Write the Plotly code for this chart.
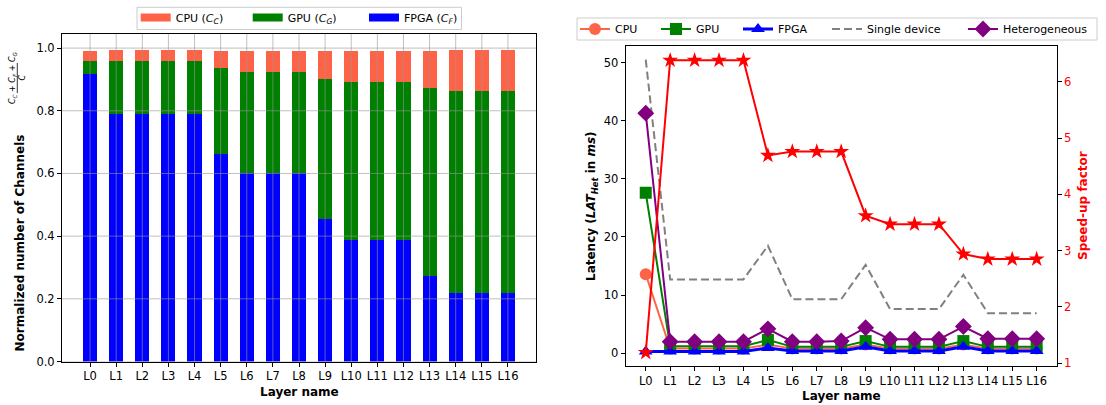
import plotly.graph_objects as go

# ---- data ---------------------------------------------------------------
layers = ["L0", "L1", "L2", "L3", "L4", "L5", "L6", "L7", "L8",
          "L9", "L10", "L11", "L12", "L13", "L14", "L15", "L16"]

# normalized channel split per layer (stacked: FPGA, GPU, CPU)
fpga_share = [0.918, 0.790, 0.790, 0.790, 0.790, 0.663, 0.600, 0.600, 0.600,
              0.454, 0.387, 0.387, 0.387, 0.272, 0.217, 0.217, 0.217]
gpu_share = [0.040, 0.168, 0.168, 0.168, 0.168, 0.274, 0.323, 0.323, 0.323,
             0.447, 0.504, 0.504, 0.504, 0.600, 0.645, 0.645, 0.645]
cpu_share = [0.032, 0.035, 0.035, 0.035, 0.035, 0.054, 0.067, 0.067, 0.067,
             0.089, 0.099, 0.099, 0.099, 0.118, 0.131, 0.131, 0.131]

# latency in ms
lat_cpu = [13.6, 0.8, 0.8, 0.8, 0.8, 1.5, 0.8, 0.8, 0.8,
           1.5, 0.8, 0.8, 0.8, 1.5, 0.8, 0.8, 0.8]
lat_gpu = [27.6, 1.2, 1.2, 1.2, 1.2, 2.3, 1.1, 1.1, 1.1,
           2.1, 1.1, 1.1, 1.1, 2.1, 1.1, 1.1, 1.1]
lat_fpga = [0.3, 0.3, 0.3, 0.3, 0.3, 0.9, 0.4, 0.4, 0.4,
            1.1, 0.4, 0.4, 0.4, 1.1, 0.4, 0.4, 0.4]
lat_single = [50.5, 12.7, 12.7, 12.7, 12.7, 18.5, 9.3, 9.3, 9.3,
              15.2, 7.6, 7.6, 7.6, 13.5, 6.9, 6.9, 6.9]
lat_het = [41.3, 2.0, 2.0, 2.0, 2.0, 4.2, 2.0, 2.0, 2.1,
           4.4, 2.4, 2.4, 2.4, 4.6, 2.5, 2.5, 2.5]
speedup = [1.19, 6.38, 6.38, 6.38, 6.38, 4.69, 4.76, 4.76, 4.76,
           3.62, 3.47, 3.47, 3.47, 2.94, 2.85, 2.85, 2.85]

share_ticks = [0.0, 0.2, 0.4, 0.6, 0.8, 1.0]
lat_ticks = [0, 10, 20, 30, 40, 50]
speed_ticks = [1, 2, 3, 4, 5, 6]

# ---- layout helpers -------------------------------------------------------
W, H = 1106, 405
FONT = "DejaVu Sans"


def px(x):
    return x / W


def py(y):
    return 1 - y / H


idx = list(range(len(layers)))
C_CPU, C_GPU, C_FPGA = "#FF6347", "#008000", "#0000FF"

fig = go.Figure()

# ---- left: stacked channel split -----------------------------------------
bar_series = [("FPGA (<i>C<sub>F</sub></i>)", fpga_share, C_FPGA, "legend8", 364),
              ("GPU (<i>C<sub>G</sub></i>)", gpu_share, C_GPU, "legend7", 247.7),
              ("CPU (<i>C<sub>C</sub></i>)", cpu_share, C_CPU, "legend", 135.7)]
for name, vals, col, _, _ in bar_series:
    fig.add_trace(go.Bar(x=idx, y=vals, name=name, marker_color=col,
                         marker_line_width=0, width=0.54,
                         xaxis="x", yaxis="y", showlegend=False))
# wide colour patches for the legend entries
for name, _, col, leg, _ in bar_series:
    fig.add_trace(go.Scatter(x=[None], y=[None], name=name, mode="lines",
                             line=dict(color=col, width=8),
                             xaxis="x", yaxis="y", legend=leg))

# ---- right: latency and speed-up ----------------------------------------
line_w = 2
fig.add_trace(go.Scatter(x=idx, y=lat_cpu, name="CPU", mode="lines+markers",
                         line=dict(color=C_CPU, width=line_w),
                         marker=dict(symbol="circle", size=12, color=C_CPU),
                         xaxis="x2", yaxis="y2", legend="legend2"))
fig.add_trace(go.Scatter(x=idx, y=lat_gpu, name="GPU", mode="lines+markers",
                         line=dict(color=C_GPU, width=line_w),
                         marker=dict(symbol="square", size=12, color=C_GPU),
                         xaxis="x2", yaxis="y2", legend="legend3"))
fig.add_trace(go.Scatter(x=idx, y=lat_fpga, name="FPGA", mode="lines+markers",
                         line=dict(color=C_FPGA, width=3),
                         marker=dict(symbol="triangle-up", size=12, color=C_FPGA),
                         xaxis="x2", yaxis="y2", legend="legend4"))
fig.add_trace(go.Scatter(x=idx, y=lat_single, name="Single device", mode="lines",
                         line=dict(color="#808080", width=line_w, dash="8px,4px"),
                         xaxis="x2", yaxis="y2", legend="legend5"))
fig.add_trace(go.Scatter(x=idx, y=lat_het, name="Heterogeneous", mode="lines+markers",
                         line=dict(color="#800080", width=line_w),
                         marker=dict(symbol="diamond", size=13, color="#800080"),
                         xaxis="x2", yaxis="y2", legend="legend6"))
fig.add_trace(go.Scatter(x=idx, y=speedup, name="Speed-up", mode="lines+markers",
                         line=dict(color="#FF0000", width=line_w),
                         marker=dict(symbol="star", size=12, color="#FF0000"),
                         xaxis="x2", yaxis="y3", showlegend=False))

# ---- grid drawn over the bars -------------------------------------------
grid_col = "rgba(150,150,150,0.6)"
shapes = []
for i in idx:
    shapes.append(dict(type="line", xref="x", yref="y domain", x0=i, x1=i,
                       y0=0, y1=1, line=dict(color=grid_col, width=1), layer="above"))
for t in share_ticks:
    shapes.append(dict(type="line", xref="x domain", yref="y", x0=0, x1=1,
                       y0=t, y1=t, line=dict(color=grid_col, width=1), layer="above"))
# fraction bar of the left y label
shapes.append(dict(type="line", xref="paper", yref="paper",
                   x0=px(17.3), x1=px(17.3), y0=py(63), y1=py(93),
                   line=dict(color="black", width=0.8)))
# legend frames
shapes.append(dict(type="rect", xref="paper", yref="paper",
                   x0=px(137), x1=px(461.5), y0=py(7.3), y1=py(29.5),
                   line=dict(color="#cccccc", width=1), fillcolor="white", layer="below"))
shapes.append(dict(type="rect", xref="paper", yref="paper",
                   x0=px(577), x1=px(1097), y0=py(18), y1=py(40),
                   line=dict(color="#cccccc", width=1), fillcolor="white", layer="below"))

axis_common = dict(showline=True, linecolor="black", linewidth=1, mirror=True,
                   ticks="outside", ticklen=4, tickcolor="black",
                   showgrid=False, zeroline=False, automargin=False,
                   tickfont=dict(family=FONT, size=11.5, color="black"))

ann_font = dict(family=FONT, size=12, color="black")
annotations = [
    dict(text="<b>Layer name</b>", x=px(299), y=py(392), xref="paper", yref="paper",
         showarrow=False, font=ann_font, xanchor="center", yanchor="middle"),
    dict(text="<b>Layer name</b>", x=px(841), y=py(396), xref="paper", yref="paper",
         showarrow=False, font=ann_font, xanchor="center", yanchor="middle"),
    dict(text="<b>Normalized number of Channels</b>", x=px(19.5), y=py(243),
         xref="paper", yref="paper", showarrow=False, font=ann_font, textangle=-90,
         xanchor="center", yanchor="middle"),
    dict(text="<i>C<sub>C</sub></i> + <i>C<sub>F</sub></i> + <i>C<sub>G</sub></i>",
         x=px(13), y=py(78), xref="paper", yref="paper", showarrow=False,
         font=dict(family=FONT, size=8, color="black"), textangle=-90,
         xanchor="center", yanchor="middle"),
    dict(text="<i>C</i>", x=px(21.5), y=py(78), xref="paper", yref="paper",
         showarrow=False, font=dict(family=FONT, size=8, color="black"),
         textangle=-90, xanchor="center", yanchor="middle"),
    dict(text="<b>Latency (<i>LAT<sub>Het</sub></i> in <i>ms</i>)</b>", x=px(592),
         y=py(206), xref="paper", yref="paper", showarrow=False, font=ann_font,
         textangle=-90, xanchor="center", yanchor="middle"),
    dict(text="<b>Speed-up factor</b>", x=px(1083), y=py(206), xref="paper",
         yref="paper", showarrow=False,
         font=dict(family=FONT, size=12, color="#FF0000"),
         textangle=-90, xanchor="center", yanchor="middle"),
]


def legend_at(x_px, y_px):
    return dict(x=px(x_px), y=py(y_px), xanchor="left", yanchor="middle",
                orientation="h", bgcolor="rgba(0,0,0,0)", borderwidth=0,
                font=dict(family=FONT, size=11, color="black"))


fig.update_layout(
    width=W, height=H,
    margin=dict(l=0, r=0, t=0, b=0, pad=0),
    paper_bgcolor="white", plot_bgcolor="white",
    font=dict(family=FONT, size=11, color="black"),
    barmode="stack", bargap=0,
    xaxis=dict(domain=[px(62), px(536)], range=[-1.075, 17.075],
               tickvals=idx, ticktext=layers, anchor="y", **axis_common),
    yaxis=dict(domain=[py(361.5), py(34)], range=[0, 1.045],
               tickvals=share_ticks, ticktext=[f"{t:.1f}" for t in share_ticks],
               anchor="x", **axis_common),
    xaxis2=dict(domain=[px(625.7), px(1056.7)], range=[-0.82, 16.82],
                tickvals=idx, ticktext=layers, anchor="y2", **axis_common),
    yaxis2=dict(domain=[py(366), py(45.7)], range=[-2.19, 52.9],
                tickvals=lat_ticks, anchor="x2",
                **{**axis_common, "mirror": False}),
    yaxis3=dict(domain=[py(366), py(45.7)], range=[0.952, 6.639],
                tickvals=speed_ticks, overlaying="y2", side="right", anchor="x2",
                showline=True, linecolor="black", linewidth=1, automargin=False,
                ticks="outside", ticklen=4, tickcolor="black",
                showgrid=False, zeroline=False,
                tickfont=dict(family=FONT, size=11.5, color="#FF0000")),
    legend=legend_at(135.7, 17.5),
    legend7=legend_at(247.7, 17.5),
    legend8=legend_at(364, 17.5),
    legend2=legend_at(575, 29),
    legend3=legend_at(656, 29),
    legend4=legend_at(738, 29),
    legend5=legend_at(827, 29),
    legend6=legend_at(963, 29),
    shapes=shapes,
    annotations=annotations,
    showlegend=True,
)

fig.write_html("out.html")
